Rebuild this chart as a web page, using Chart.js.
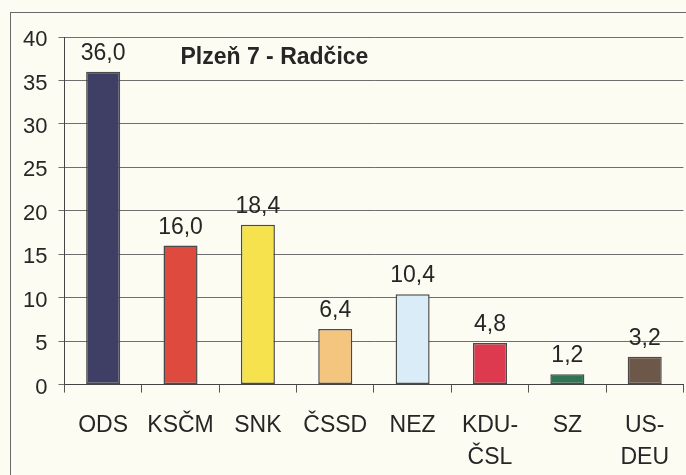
<!DOCTYPE html>
<html>
<head>
<meta charset="utf-8">
<script src="https://cdn.jsdelivr.net/npm/chart.js@4/dist/chart.umd.min.js"></script>
<style>
  html, body { margin: 0; padding: 0; background: #fdfcf2; }
  #wrap { position: relative; width: 686px; height: 475px; }
  #frame {
    position: absolute; left: 10px; top: 12px; right: 0; bottom: 0;
    border-top: 1px solid #6a6a6a; border-left: 1px solid #6a6a6a;
  }
  #chart { position: absolute; left: 0; top: 0; }
</style>
</head>
<body>
<div id="wrap">
  <div id="frame"></div>
  <canvas id="chart" width="686" height="475"></canvas>
</div>
<script>
/*************************************************
 * DATA
 *************************************************/
const TITLE = "Plzeň 7 - Radčice";
const parties = ["ODS", "KSČM", "SNK", "ČSSD", "NEZ", ["KDU-", "ČSL"], "SZ", ["US-", "DEU"]];
const percent = [36.0, 16.0, 18.4, 6.4, 10.4, 4.8, 1.2, 3.2];
const barColors = ["#3f3f66", "#de4a3e", "#f6e24c", "#f4c57e", "#d9ecf7", "#dd3a50", "#2f7454", "#6d5748"];
const yTicks = [0, 5, 10, 15, 20, 25, 30, 35, 40];

const FONT = "'Liberation Sans', Arial, Helvetica, sans-serif";
const INK = "#262626";

/*************************************************
 * PLUGINS
 *************************************************/
const valueLabels = {
  id: "valueLabels",
  afterDatasetsDraw(chart) {
    const ctx = chart.ctx;
    const meta = chart.getDatasetMeta(0);
    ctx.save();
    ctx.font = "23px " + FONT;
    ctx.fillStyle = INK;
    ctx.textAlign = "center";
    ctx.textBaseline = "alphabetic";
    meta.data.forEach((bar, i) => {
      ctx.fillText(percent[i].toFixed(1).replace(".", ","), bar.x, bar.y - 12);
    });
    ctx.restore();
  }
};

const innerTitle = {
  id: "innerTitle",
  afterDraw(chart) {
    const { ctx, chartArea } = chart;
    ctx.save();
    ctx.font = "bold 23px " + FONT;
    ctx.fillStyle = INK;
    ctx.textAlign = "left";
    ctx.textBaseline = "alphabetic";
    ctx.fillText(TITLE, chartArea.left + 116, chartArea.top + 27);
    ctx.restore();
  }
};

/*************************************************
 * CHART
 *************************************************/
const chart = new Chart(document.getElementById("chart"), {
  type: "bar",
  data: {
    labels: parties,
    datasets: [{
      data: percent,
      backgroundColor: barColors,
      borderColor: "#4a4a4a",
      borderWidth: 1.5,
      borderSkipped: false,
      barPercentage: 0.44,
      categoryPercentage: 1
    }]
  },
  options: {
    responsive: false,
    animation: false,
    layout: { padding: { left: 12, top: 37, right: -4, bottom: -16 } },
    plugins: {
      legend: { display: false },
      tooltip: { enabled: false }
    },
    scales: {
      x: {
        offset: true,
        grid: {
          offset: true,
          drawOnChartArea: false,
          drawTicks: true,
          tickLength: 8,
          color: "#555"
        },
        border: { display: true, color: "#444", width: 1 },
        ticks: {
          autoSkip: false,
          maxRotation: 0,
          padding: 17,
          color: INK,
          font: { family: FONT, size: 23, lineHeight: 1.4 }
        }
      },
      y: {
        min: 0,
        max: 40,
        afterBuildTicks: axis => { axis.ticks = yTicks.map(v => ({ value: v })); },
        grid: {
          color: "#6e6e6e",
          lineWidth: 1,
          tickLength: 6
        },
        border: { display: true, color: "#444", width: 1 },
        ticks: {
          padding: 11,
          labelOffset: 3,
          color: INK,
          font: { family: FONT, size: 22 }
        }
      }
    }
  },
  plugins: [valueLabels, innerTitle]
});
</script>
</body>
</html>
